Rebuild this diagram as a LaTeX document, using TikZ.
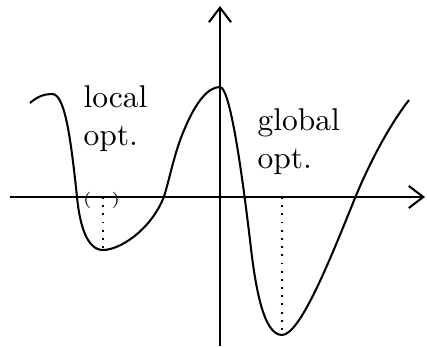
\documentclass[tikz,border=0pt]{standalone}
\usetikzlibrary{arrows.meta}
\begin{document}
\begin{tikzpicture}[x=0.3175pt,y=-0.3175pt,
  axis/.style={line width=0.65pt,-{Straight Barb[length=4.6pt,width=7pt]}},
  curve/.style={line width=0.65pt},
  dropline/.style={dotted,line width=0.6pt},
  lbl/.style={anchor=north west,inner sep=0pt,align=left,font=\normalsize}]
\useasboundingbox (0,0) rectangle (427,347);
% axes
\coordinate (xl) at (10,197);
\coordinate (xr) at (425,197);
\coordinate (yb) at (220,346);
\coordinate (yt) at (220,6);
\draw[axis] (xl) -- (xr);
\draw[axis] (yb) -- (yt);
% curve
\draw[curve] (30,103) .. controls (38,96) and (45,94) .. (52,94)
  .. controls (64,94) and (70,130) .. (77,197)
  .. controls (80,228) and (88,250) .. (103,250)
  .. controls (120,250) and (150,230) .. (163,199)
  .. controls (168,187) and (174,152) .. (185,128)
  .. controls (196,102) and (208,87) .. (220,87)
  .. controls (231,87) and (244,190) .. (250,240)
  .. controls (255,285) and (263,335) .. (282,335)
  .. controls (300,335) and (330,260) .. (355,198)
  .. controls (375,150) and (395,118) .. (409,100);
% minima
\coordinate (m1) at (103,250);
\coordinate (f1) at (103,197);
\coordinate (m2) at (282,334);
\coordinate (f2) at (282,197);
\draw[dropline] (f1) -- (m1);
\draw[dropline] (f2) -- (m2);
% labels
\node[inner sep=0pt,font=\fontsize{5.2}{6}\selectfont] (par) at (101.5,200) {(\hspace{6.2pt})};
\node[lbl] (loc) at (83,85) {local\\opt.};
\node[lbl] (glo) at (257,108) {global\\opt.};
\end{tikzpicture}
\end{document}
